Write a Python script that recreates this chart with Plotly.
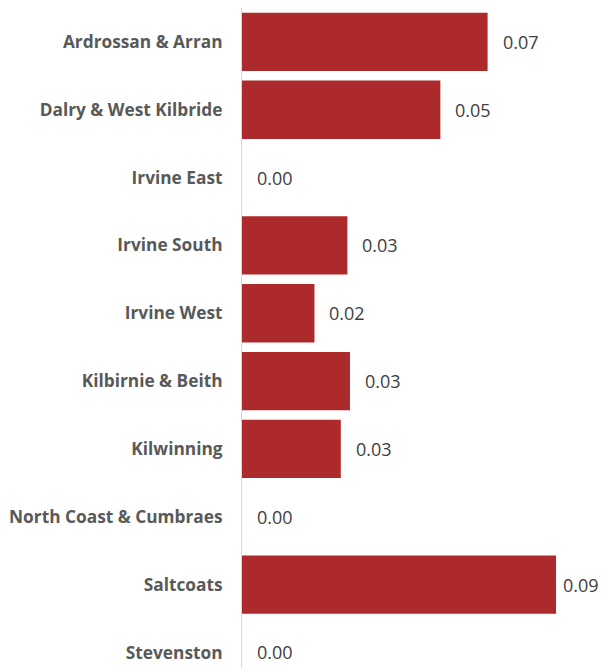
import plotly.graph_objects as go

categories = ["Ardrossan & Arran", "Dalry & West Kilbride", "Irvine East", "Irvine South",
              "Irvine West", "Kilbirnie & Beith", "Kilwinning", "North Coast & Cumbraes",
              "Saltcoats", "Stevenston"]
values = [0.0671, 0.0542, 0.0, 0.0288, 0.0198, 0.0295, 0.0270, 0.0, 0.0858, 0.0]
value_labels = [f"{v:.2f}" for v in values]

fig = go.Figure()
fig.add_trace(go.Bar(
    y=categories, x=values, orientation="h",
    marker=dict(color="#AD2A2C", line=dict(width=0)),
    width=0.86, hoverinfo="skip",
))
vmax = max(values)
for c, v, t in zip(categories, values, value_labels):
    # the longest bar's label is pulled in slightly so it stays inside the page
    fig.add_annotation(x=v, y=c, text=t, showarrow=False, xanchor="left",
                       xshift=5 if v == vmax else 13, yshift=0,
                       font=dict(family="Open Sans", size=18, color="#404040"))

fig.update_layout(
    width=600, height=660,
    margin=dict(l=234, r=0, t=0, b=0, autoexpand=False),
    plot_bgcolor="white", paper_bgcolor="white",
    showlegend=False,
    xaxis=dict(range=[0, 0.1], visible=False, fixedrange=True, automargin=False),
    yaxis=dict(
        type="category", categoryorder="array", categoryarray=categories,
        range=[9.229, -0.5], automargin=False,
        showline=True, linecolor="#D9D9D9", linewidth=1,
        showgrid=False, zeroline=False,
        ticks="outside", ticklen=15, tickcolor="rgba(0,0,0,0)",
        tickfont=dict(family="Open Sans", size=17.3, color="#595959", weight="bold"),
    ),
)
fig.write_html("out.html")
